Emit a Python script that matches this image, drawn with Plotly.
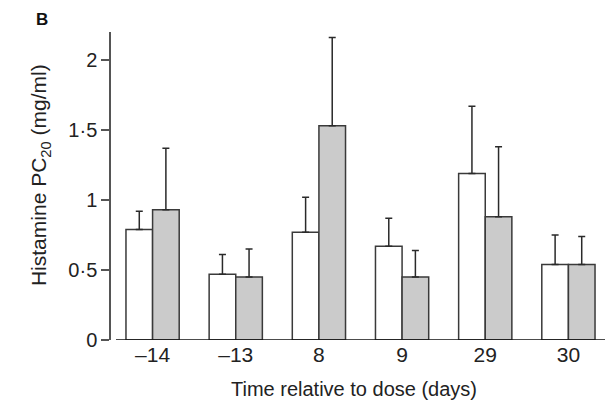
import plotly.graph_objects as go

categories = ["\u201314", "\u201313", "8", "9", "29", "30"]
white_vals = [0.79, 0.47, 0.77, 0.67, 1.19, 0.54]
white_err = [0.13, 0.14, 0.25, 0.20, 0.48, 0.21]
gray_vals = [0.93, 0.45, 1.53, 0.45, 0.88, 0.54]
gray_err = [0.44, 0.20, 0.63, 0.19, 0.50, 0.20]
y_tickvals = [0, 0.5, 1, 1.5, 2]
y_ticktext = ["0", "0\u00b75", "1", "1\u00b75", "2"]

FONT = "Liberation Sans, Arial, sans-serif"
TXT = "#222222"
EDGE = "#3a3a3a"

fig = go.Figure()
fig.add_trace(go.Bar(
    x=categories, y=white_vals, name="white",
    marker=dict(color="white", line=dict(color=EDGE, width=1.5)),
    error_y=dict(type="data", array=white_err, symmetric=False,
                 arrayminus=[0] * len(white_err),
                 color="#2a2a2a", thickness=1.5, width=3.5),
))
fig.add_trace(go.Bar(
    x=categories, y=gray_vals, name="gray",
    marker=dict(color="#cbcbcb", line=dict(color=EDGE, width=1.5)),
    error_y=dict(type="data", array=gray_err, symmetric=False,
                 arrayminus=[0] * len(gray_err),
                 color="#2a2a2a", thickness=1.5, width=3.5),
))

# page has an 8px body margin, so the figure is sized/offset to compensate
fig.update_layout(
    width=605, height=393,
    margin=dict(l=103, r=3, t=24, b=61),
    paper_bgcolor="white", plot_bgcolor="white",
    barmode="group", bargap=0.36, bargroupgap=0,
    showlegend=False,
    font=dict(family=FONT, color=TXT, size=20),
)
fig.update_xaxes(
    type="category", range=[-0.5, 5.5],
    showline=False, showgrid=False, zeroline=False,
    ticks="", tickfont=dict(size=21, color=TXT),
)
fig.update_yaxes(
    range=[0, 2.2], showgrid=False, zeroline=False,
    showline=True, linecolor="#555555", linewidth=1.5,
    ticks="outside", ticklen=8, tickwidth=1.5, tickcolor="#555555",
    tickvals=y_tickvals, ticktext=y_ticktext,
    tickfont=dict(size=20, color=TXT),
)
# x baseline (starts slightly right of the y axis)
fig.add_shape(type="line", xref="paper", yref="y", x0=0.01, x1=1.0, y0=0, y1=0,
              line=dict(color="#111111", width=1.5))

fig.add_annotation(text="Time relative to dose (days)", xref="paper", yref="paper",
                   x=0.486, y=-0.159, showarrow=False, xanchor="center", yanchor="middle",
                   font=dict(size=20, color=TXT, family=FONT))
fig.add_annotation(text="Histamine PC<sub>20</sub> (mg/ml)", xref="paper", yref="paper",
                   x=-0.142, y=0.536, showarrow=False, textangle=-90,
                   xanchor="center", yanchor="middle",
                   font=dict(size=21, color=TXT, family=FONT))
fig.add_annotation(text="<b>B</b>", xref="paper", yref="paper",
                   x=-0.154, y=1.0779, showarrow=False, xanchor="left", yanchor="top",
                   font=dict(size=17, color="#111111", family=FONT))

fig.write_html("out.html")
